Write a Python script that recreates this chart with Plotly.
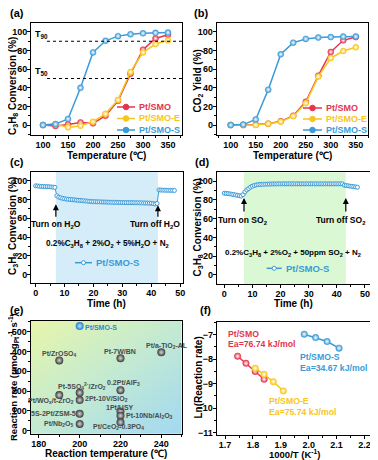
import plotly.graph_objects as go

# The page body has an 8 px margin: the figure is sized to fit the window.
OFF = 8
W, H = 378 - OFF, 460 - OFF
FONT = 'Liberation Sans'
RED = '#e5344c'
YEL = '#f8c51c'
BLUE = '#3a9bd8'

# ---------------- data ----------------
temp = [100, 125, 150, 175, 200, 225, 250, 275, 300, 325, 350]
a_smo = [0, -1, 0.7, 2.8, 1.8, 10, 26, 55, 81, 93, 97]
a_smoe = [0, 1, -2.5, -0.7, 3.6, 12, 27, 57, 78, 87, 91]
a_smos = [0, 1, 6.5, 40, 78, 90.5, 95.5, 97.5, 98.5, 99, 99.3]

b_smo = [0, 0, 0.5, 1.5, 4, 10, 25, 53, 78.5, 91, 94.5]
b_smoe = [0, 0, 0, 1.5, 3.5, 9.5, 23.5, 52, 72, 79.5, 83.5]
b_smos = [0, 0.5, 6, 38, 76, 88.5, 92.5, 94, 94.5, 95, 95]

step = 2 / 3
c_conv = [94.5, 94.3, 94.1, 93.9, 93.8, 93.7, 93.6, 93.5, 93.3, 93.1, 92.9,
          84.0, 82.5, 81.8, 81.2, 80.8, 80.4,
          80.2, 80.0, 79.8, 79.6, 79.4, 79.2, 79.0, 78.8, 78.6, 78.4, 78.2, 78.0, 77.8,
          77.7, 77.6, 77.5, 77.5, 77.4, 77.3, 77.3, 77.2, 77.1, 77.1, 77.0, 77.0, 76.9, 76.9, 76.8,
          76.8, 76.7, 76.7, 76.6, 76.6, 76.6, 76.5, 76.5, 76.5, 76.4, 76.4, 76.3, 76.3, 76.2, 76.1,
          76.0, 75.6, 75.2, 75.8,
          90.2, 90.0, 89.9, 89.9, 89.8, 89.8, 89.7, 89.7, 89.6]
c_time = [round(i * step, 3) for i in range(len(c_conv))]

d_conv = [87.0, 86.8, 86.6, 86.3, 86.0, 85.6, 85.2, 84.8, 84.4, 84.0,
          85.5, 88.5, 90.5, 92.0, 93.5, 94.5, 95.3, 95.8, 96.2,
          96.4, 96.5, 96.6, 96.7, 96.7, 96.8, 96.8, 96.9, 96.9, 96.9,
          97.0, 97.0, 97.0, 97.0, 97.0, 97.0, 97.0, 97.0, 97.0, 97.0,
          97.0, 97.0, 97.0, 97.0, 97.0, 97.0, 97.0, 97.0, 97.0, 97.0,
          97.0, 97.0, 97.0, 97.0, 97.0, 97.0, 97.0, 97.0, 97.0, 97.0,
          97.0, 97.0, 97.0, 97.0, 97.0,
          95.6, 95.2, 94.9, 94.6, 94.3, 94.0, 93.7, 93.4]
d_time = [round(i * step, 3) for i in range(len(d_conv))]

e_names = ['Pt/ZrOSO<sub>4</sub>', 'Pt-7W/BN', 'Pt/a-TiO<sub>2</sub>-AL',
           'Pt-5SO<sub>4</sub><sup>2-</sup>/ZrO<sub>2</sub>', '0.2Pt/AlF<sub>3</sub>',
           'Pt/WO<sub>x</sub>/t-ZrO<sub>2</sub>', '2Pt-10V/SiO<sub>2</sub>', '1Pt/USY',
           'Pt-10Nb/Al<sub>2</sub>O<sub>3</sub>', '5S-2Pt/ZSM-5', 'Pt/Nb<sub>2</sub>O<sub>5</sub>',
           'Pt/CeO<sub>2</sub>-0.3PO<sub>4</sub>']
e_temp = [190, 220, 240, 200, 220, 190, 200, 220, 220, 200, 200, 220]
e_rate = [355, 366, 396, 192, 205, 180, 155, 98, 76, 86, 35, 43]
e_smos_temp = [200]
e_smos_rate = [528]

f_smo_x = [1.745, 1.775, 1.808, 1.840]
f_smo_y = [-7.88, -8.17, -8.50, -8.82]
f_smoe_x = [1.808, 1.840, 1.873, 1.909]
f_smoe_y = [-8.37, -8.62, -8.92, -9.30]
f_smos_x = [1.984, 2.025, 2.066, 2.109]
f_smos_y = [-6.98, -7.12, -7.28, -7.55]

# ---------------- helpers (reference pixels -> paper) ----------------
def dx(p):
    return (p - OFF) / W

def dy(p):
    return 1 - (p - OFF) / H

tickfont = dict(family=FONT, size=9, color='black', weight='bold')


def axis(dom, rng, dtick, mdtick, anchor, tick0=None, fmt=None):
    d = dict(domain=dom, range=rng, dtick=dtick, anchor=anchor,
             showline=True, linecolor='black', linewidth=1, mirror=True,
             ticks='outside', ticklen=3, tickwidth=1, tickcolor='black',
             showgrid=False, zeroline=False, tickfont=tickfont,
             ticklabelstandoff=-2, automargin=False,
             minor=dict(dtick=mdtick, ticks='outside', ticklen=2, tickcolor='black'))
    if tick0 is not None:
        d['tick0'] = tick0
    if fmt is not None:
        d['tickformat'] = fmt
    return d


def mk(color, size=6):
    return dict(symbol='circle', size=size, color=color,
                gradient=dict(type='radial', color='#ffffff'),
                line=dict(width=0.5, color=color))


fig = go.Figure()

# ---- (a) ----
for yv, col in [(a_smo, RED), (a_smoe, YEL), (a_smos, BLUE)]:
    fig.add_trace(go.Scatter(x=temp, y=yv, mode='lines+markers', xaxis='x', yaxis='y', showlegend=False,
                             line=dict(color=col, width=1.5), marker=mk(col)))
# ---- (b) ----
for yv, col in [(b_smo, RED), (b_smoe, YEL), (b_smos, BLUE)]:
    fig.add_trace(go.Scatter(x=temp, y=yv, mode='lines+markers', xaxis='x2', yaxis='y2', showlegend=False,
                             line=dict(color=col, width=1.5), marker=mk(col)))
# ---- (c) ----
fig.add_trace(go.Scatter(x=c_time, y=c_conv, mode='lines+markers', xaxis='x3', yaxis='y3', showlegend=False,
                         line=dict(color=BLUE, width=1),
                         marker=dict(symbol='circle', size=4, color='white', line=dict(color=BLUE, width=1))))
# ---- (d) ----
fig.add_trace(go.Scatter(x=d_time, y=d_conv, mode='lines+markers', xaxis='x4', yaxis='y4', showlegend=False,
                         line=dict(color=BLUE, width=1),
                         marker=dict(symbol='circle', size=4, color='white', line=dict(color=BLUE, width=1))))
# ---- (e) ----
ex = [176, 213, 250]
ey = [-16, 269.5, 555]
ez = [[(i / 2) - (j / 2) for i in range(3)] for j in range(3)]
fig.add_trace(go.Heatmap(x=ex, y=ey, z=ez, xaxis='x5', yaxis='y5', zsmooth='best', showscale=False,
                         colorscale=[[0, '#e7f6ab'], [0.5, '#c3ead2'], [1, '#a2d8f3']],
                         hoverinfo='skip'))
fig.add_trace(go.Scatter(x=e_temp, y=e_rate, mode='markers', xaxis='x5', yaxis='y5', showlegend=False,
                         marker=dict(symbol='circle', size=8, color='#3a3a3a',
                                     gradient=dict(type='radial', color='#d8d8d8'),
                                     line=dict(width=0))))
fig.add_trace(go.Scatter(x=e_smos_temp, y=e_smos_rate, mode='markers', xaxis='x5', yaxis='y5', showlegend=False,
                         marker=dict(symbol='circle', size=8, color='#1f7fc8',
                                     gradient=dict(type='radial', color='#bfe3fb'),
                                     line=dict(width=0))))
# ---- (f) ----
for xs, ys, col in [(f_smo_x, f_smo_y, RED), (f_smoe_x, f_smoe_y, YEL), (f_smos_x, f_smos_y, BLUE)]:
    fig.add_trace(go.Scatter(x=xs, y=ys, mode='lines+markers', xaxis='x6', yaxis='y6', showlegend=False,
                             line=dict(color=col, width=1.5), marker=mk(col, 6.5)))

# ---------------- axes ----------------
fig.update_layout(
    xaxis=axis([dx(31), dx(182)], [76, 378], 50, 25, 'y'),
    yaxis=axis([dy(135), dy(23)], [-10.7, 109.6], 20, 10, 'x'),
    xaxis2=axis([dx(216.7), dx(368.3)], [72, 375], 50, 25, 'y2'),
    yaxis2=axis([dy(135), dy(23)], [-10.7, 109.6], 20, 10, 'x2'),
    xaxis3=axis([dx(31), dx(182.5)], [-1.6, 50.8], 10, 5, 'y3'),
    yaxis3=axis([dy(283.3), dy(171.7)], [-9, 109.5], 20, 10, 'x3'),
    xaxis4=axis([dx(216.7), dx(370)], [-2.7, 51.8], 10, 5, 'y4'),
    yaxis4=axis([dy(284), dy(172.3)], [-9.6, 109.3], 20, 10, 'x4'),
    xaxis5=axis([dx(30.7), dx(181.7)], [176, 250], 20, 10, 'y5'),
    yaxis5=axis([dy(434), dy(320.7)], [-16, 555], 100, 50, 'x5'),
    xaxis6=axis([dx(216.7), dx(370)], [1.67, 2.22], 0.1, 0.05, 'y6', tick0=1.7, fmt='.1f'),
    yaxis6=axis([dy(435), dy(321.7)], [-11.1, -6.47], 1, 0.5, 'x6'),
)

# ---------------- shapes ----------------
shapes = [
    dict(type='rect', xref='x3', yref='y3 domain', x0=7, x1=42.3, y0=0, y1=1,
         fillcolor='#d5edf8', line=dict(width=0), layer='below'),
    dict(type='rect', xref='x4', yref='y4 domain', x0=7, x1=43.2, y0=0, y1=1,
         fillcolor='#d9f8d3', line=dict(width=0), layer='below'),
    dict(type='line', xref='x', yref='y', x0=108, x1=378, y0=90, y1=90,
         line=dict(color='black', width=1, dash='dot')),
    dict(type='line', xref='x', yref='y', x0=108, x1=378, y0=50, y1=50,
         line=dict(color='black', width=1, dash='dot')),
]

anns = []
def T(text, x, y, xref='paper', yref='paper', size=9.5, color='black', xanchor='center', bold=True, **kw):
    anns.append(dict(text=text, x=x, y=y, xref=xref, yref=yref, showarrow=False,
                     font=dict(family=FONT, size=size, color=color, weight='bold' if bold else 'normal'),
                     xanchor=xanchor, yanchor='middle', **kw))

# axis titles (reference pixel positions)
C3H8 = 'C<sub>3</sub>H<sub>8</sub> Conversion (%)'
for txt, px, py, fs in [('Temperature (℃)', 106, 155, 10), ('Temperature (℃)', 292, 155, 10),
                        ('Time (h)', 106, 303, 10), ('Time (h)', 293, 303, 10),
                        ('Reaction temperature (℃)', 106, 453.5, 10),
                        ('1000/T (K<sup>-1</sup>)', 294, 453.5, 9.5)]:
    T(txt, dx(px), dy(py), size=fs)
for txt, px, py, fs in [(C3H8, 13, 86, 10), ('CO<sub>2</sub> Yield (%)', 197.5, 81, 10),
                        (C3H8, 13, 226, 10), (C3H8, 197.5, 228, 10),
                        ('Reaction rate (μmol·g<sub>Pt</sub><sup>-1</sup>·s<sup>-1</sup>)', 13, 377, 9.5),
                        ('Ln(Reaction rate)', 197.5, 378, 10)]:
    T(txt, dx(px), dy(py), size=fs, textangle=-90)

# manual legends (line sample + marker + coloured text), in reference pixels
def legend_item(x0, x1, yc, col, label, fill=None, r=2.8, fs=9):
    shapes.append(dict(type='line', xref='paper', yref='paper', x0=dx(x0), x1=dx(x1), y0=dy(yc), y1=dy(yc),
                       line=dict(color=col, width=1.5)))
    xm = (x0 + x1) / 2
    shapes.append(dict(type='circle', xref='paper', yref='paper', x0=dx(xm - r), x1=dx(xm + r),
                       y0=dy(yc + r), y1=dy(yc - r), fillcolor=fill or col, line=dict(color=col, width=1)))
    T(label, dx(x1 + 2), dy(yc), size=fs, color=col, xanchor='left')

for (lab, col), yc in zip([('Pt/SMO', RED), ('Pt/SMO-E', YEL), ('Pt/SMO-S', BLUE)], [107, 118.5, 130]):
    legend_item(117, 135, yc, col, lab)
for (lab, col), yc in zip([('Pt/SMO', RED), ('Pt/SMO-E', YEL), ('Pt/SMO-S', BLUE)], [108, 119, 130]):
    legend_item(303, 322, yc, col, lab)
legend_item(75, 92, 262.7, BLUE, 'Pt/SMO-S', fill='white', r=2, fs=9.5)
legend_item(266.7, 281.7, 268.3, BLUE, 'Pt/SMO-S', fill='white', r=2, fs=9.5)

for lab, px, py in [('(a)', 8, 13), ('(b)', 192, 13), ('(c)', 8, 162), ('(d)', 193, 162), ('(e)', 8, 310), ('(f)', 198, 310)]:
    T(lab, dx(px), dy(py), size=11, xanchor='left')

T('T<sub>90</sub>', 80, 97, 'x', 'y', size=9, xanchor='left')
T('T<sub>50</sub>', 80, 57, 'x', 'y', size=9, xanchor='left')

# (c)
T('Turn on H<sub>2</sub>O', 7, 53, 'x3', 'y3', size=8.5)
T('Turn off H<sub>2</sub>O', 41.2, 53, 'x3', 'y3', size=8.5)
T('0.2%C<sub>3</sub>H<sub>8</sub> + 2%O<sub>2</sub> + 5%H<sub>2</sub>O + N<sub>2</sub>', 24.7, 33, 'x3', 'y3', size=8.2)
# (d)
T('Turn on SO<sub>2</sub>', 6.5, 58.5, 'x4', 'y4', size=8.5)
T('Turn off SO<sub>2</sub>', 41.5, 58.5, 'x4', 'y4', size=8.5)
T('0.2%C<sub>3</sub>H<sub>8</sub> + 2%O<sub>2</sub> + 50ppm SO<sub>2</sub> + N<sub>2</sub>', 24.6, 23, 'x4', 'y4', size=8)

# arrows
for xr, yr, x, yh, yt in [('x3', 'y3', 7, 75, 60), ('x3', 'y3', 42.3, 74, 60),
                          ('x4', 'y4', 7, 82, 66), ('x4', 'y4', 43.2, 82, 66)]:
    anns.append(dict(x=x, y=yh, ax=x, ay=yt, xref=xr, yref=yr, axref=xr, ayref=yr, text='',
                     showarrow=True, arrowhead=2, arrowsize=1, arrowwidth=1.2, arrowcolor='black'))

# (e) labels
GREY = '#4a4a4a'
T('Pt/SMO-S', 201.5, 520, 'x5', 'y5', size=7, color='#2a8ad0', xanchor='left')
e_lab = [  # (x, y, anchor)
    (190.3, 387, 'center'), (220, 399, 'center'), (242.7, 429, 'center'),
    (201.3, 225, 'center'), (221.7, 242, 'center'), (198.4, 152, 'right'),
    (201.4, 160, 'left'), (219.7, 117, 'center'), (221.6, 73, 'left'),
    (199.2, 86, 'right'), (197.6, 35, 'right'), (218.8, 20, 'center')]
for nm, (lx, ly, anc) in zip(e_names, e_lab):
    T(nm, lx, ly, 'x5', 'y5', size=7, color=GREY, xanchor=anc)

# (f) labels
for txt, lx, ly, col in [('Pt/SMO', 1.702, -6.98, RED), ('Ea=76.74 kJ/mol', 1.702, -7.38, RED),
                         ('Pt/SMO-S', 1.963, -7.93, BLUE), ('Ea=34.67 kJ/mol', 1.963, -8.37, BLUE),
                         ('Pt/SMO-E', 1.85, -9.73, YEL), ('Ea=75.74 kJ/mol', 1.85, -10.17, YEL)]:
    T(txt, lx, ly, 'x6', 'y6', size=8.7, color=col, xanchor='left')

fig.update_layout(shapes=shapes, annotations=anns, showlegend=False,
                  width=W, height=H, margin=dict(l=0, r=0, t=0, b=0),
                  paper_bgcolor='white', plot_bgcolor='white',
                  font=dict(family=FONT, color='black'))

fig.write_html('out.html')
